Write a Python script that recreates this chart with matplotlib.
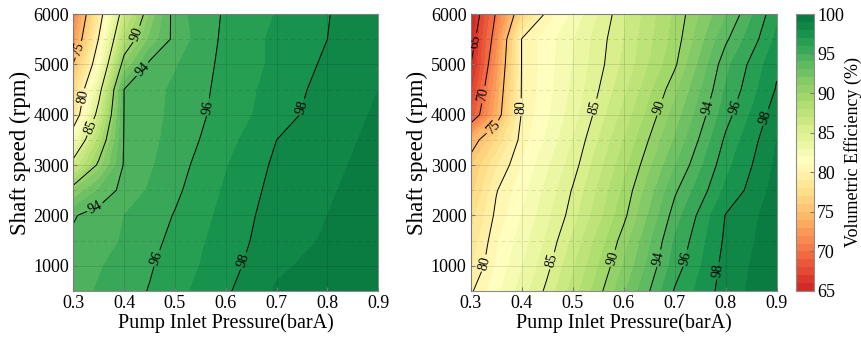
import numpy as np
import matplotlib
matplotlib.use("Agg")
import matplotlib.pyplot as plt
from matplotlib.colors import LinearSegmentedColormap
from matplotlib.ticker import MultipleLocator

# grid of the measured / simulated points
pressure = [0.3, 0.35, 0.4, 0.45, 0.5, 0.6, 0.7, 0.8, 0.9]          # barA
speed = [500, 1000, 1500, 2000, 2500, 3000, 3500, 4000, 4500, 5000, 5500, 6000]  # rpm

# volumetric efficiency (%), one row per shaft speed (500 -> 6000)
eff_left = [
    [94.6, 95.1, 95.6, 96.05, 96.65, 97.85, 99.1, 99.4, 99.8],
    [94.4, 94.9, 95.4, 95.9, 96.45, 97.6, 98.85, 99.3, 99.7],
    [94.2, 94.6, 95.1, 95.65, 96.3, 97.45, 98.6, 99.1, 99.6],
    [93.9, 94.5, 95.0, 95.5, 96.06, 97.3, 98.5, 99.0, 99.5],
    [91.0, 93.1, 94.4, 95.1, 95.8, 97.13, 98.35, 98.9, 99.4],
    [86.0, 90.4, 94.15, 94.85, 95.6, 96.93, 98.2, 98.8, 99.3],
    [82.0, 88.3, 94.1, 94.7, 95.4, 96.65, 98.0, 98.7, 99.2],
    [78.0, 86.0, 94.05, 94.65, 95.25, 96.44, 97.5, 98.6, 99.1],
    [77.0, 84.0, 94.03, 94.6, 95.2, 96.34, 97.4, 98.4, 99.0],
    [75.1, 81.6, 91.0, 94.3, 94.9, 96.31, 97.2, 98.2, 98.9],
    [72.4, 80.1, 88.3, 92.2, 94.4, 96.28, 97.2, 98.0, 98.7],
    [71.0, 78.8, 86.3, 91.1, 94.6, 96.16, 97.05, 97.97, 98.5],
]
eff_right = [
    [79.8, 81.7, 83.4, 85.3, 87.4, 91.8, 96.1, 98.5, 99.8],
    [78.8, 81.1, 82.9, 84.7, 86.8, 91.1, 95.5, 98.4, 99.7],
    [78.2, 80.8, 82.5, 84.2, 86.2, 90.5, 95.1, 98.2, 99.6],
    [77.5, 80.3, 82.0, 83.7, 85.5, 89.7, 94.5, 98.05, 99.5],
    [76.5, 79.9, 81.6, 83.3, 85.1, 89.2, 93.8, 97.2, 99.4],
    [75.8, 78.8, 81.1, 82.8, 84.5, 88.6, 92.9, 96.7, 99.2],
    [74.0, 77.0, 80.5, 82.2, 84.0, 88.0, 92.1, 96.2, 99.0],
    [68.0, 73.7, 80.15, 81.8, 83.5, 87.3, 91.4, 95.6, 98.6],
    [66.5, 73.0, 80.1, 81.6, 83.2, 86.7, 90.7, 95.1, 98.1],
    [65.0, 72.2, 80.05, 81.5, 83.0, 86.2, 89.8, 94.7, 97.8],
    [63.5, 71.4, 80.05, 81.5, 82.9, 86.0, 89.4, 93.8, 97.2],
    [62.0, 70.3, 76.9, 80.4, 82.2, 85.8, 89.2, 92.9, 96.8],
]

lines_left = [75, 80, 85, 90, 94, 96, 98]
lines_right = [65, 70, 75, 80, 85, 90, 94, 96, 98]
cbar_ticks = [65, 70, 75, 80, 85, 90, 95, 100]

# where (which rpm) the contour labels sit
labels_left = {75: [5300], 80: [4350], 85: [3750], 90: [5600], 94: [4900, 2150],
               96: [4150, 1150], 98: [4150, 1100]}
labels_right = {65: [5450], 70: [4400], 75: [3750], 80: [4150, 1050], 85: [4150, 1100],
                90: [4150, 1150], 94: [4150, 1150], 96: [4150, 1150], 98: [3950, 900]}

plt.rcParams['font.family'] = ['Liberation Serif', 'DejaVu Serif']

cmap = LinearSegmentedColormap.from_list(
    'vol', plt.get_cmap('RdYlGn')(np.linspace(0.08, 0.97, 256)))
fill_levels = np.arange(65, 101, 1)


def point_at(verts, rpm):
    # point on the contour path at the given speed (first crossing)
    for a, b in zip(verts[:-1], verts[1:]):
        if (a[1] - rpm) * (b[1] - rpm) <= 0 and a[1] != b[1]:
            t = (rpm - a[1]) / (b[1] - a[1])
            return (a[0] + t * (b[0] - a[0]), rpm)
    j = np.argmin(np.abs(verts[:, 1] - rpm))
    return tuple(verts[j])


def draw(ax, eff, lines, label_at):
    X, Y = np.meshgrid(pressure, speed)
    Z = np.array(eff)
    cf = ax.contourf(X, Y, np.clip(Z, 65.01, 99.99), levels=fill_levels, cmap=cmap)
    cs = ax.contour(X, Y, Z, levels=lines, colors='k', linewidths=0.7)

    pts = []
    paths = cs.get_paths()
    for i, lev in enumerate(cs.levels):
        verts = paths[i].vertices
        if len(verts) == 0:
            continue
        for rpm in label_at.get(int(lev), []):
            pts.append(point_at(verts, rpm))
    ax.clabel(cs, manual=pts, fmt='%d', fontsize=10, inline=True, inline_spacing=2)

    ax.set_xlim(0.3, 0.9)
    ax.set_ylim(500, 6000)
    ax.set_xticks(np.arange(0.3, 0.91, 0.1))
    ax.set_xticklabels([f'{v:.1f}' for v in np.arange(0.3, 0.91, 0.1)])
    ax.set_yticks(range(1000, 6001, 1000))
    ax.yaxis.set_minor_locator(MultipleLocator(500))

    ax.set_axisbelow(False)
    ax.grid(which='major', color='k', alpha=0.13, lw=0.6)
    ax.grid(which='minor', axis='y', color='k', alpha=0.12, lw=0.6, ls=(0, (5, 4)))
    ax.tick_params(which='major', direction='in', length=3, labelsize=13, pad=3,
                   color='#777777')
    ax.tick_params(which='minor', length=0)
    for s in ax.spines.values():
        s.set_color('#8c8c8c')
        s.set_linewidth(0.8)

    ax.set_xlabel('Pump Inlet Pressure(barA)', fontsize=14.5, labelpad=1)
    ax.set_ylabel('Shaft speed (rpm)', fontsize=16.5, labelpad=2)
    return cf


fig = plt.figure(figsize=(8.62, 3.39), dpi=100)
ax1 = fig.add_axes([0.085, 0.1416, 0.3538, 0.8171])
ax2 = fig.add_axes([0.546, 0.1416, 0.355, 0.8171])
cax = fig.add_axes([0.9231, 0.1416, 0.0216, 0.8171])

draw(ax1, eff_left, lines_left, labels_left)
cf = draw(ax2, eff_right, lines_right, labels_right)

cb = fig.colorbar(cf, cax=cax, ticks=cbar_ticks)
cb.outline.set_edgecolor('#8c8c8c')
cb.outline.set_linewidth(0.8)
cax.tick_params(direction='in', length=3, labelsize=13, pad=2, color='#777777')
cax.set_ylabel('Volumetric Efficiency (%)', fontsize=13, labelpad=0)

fig.savefig('out.png', dpi=100)
